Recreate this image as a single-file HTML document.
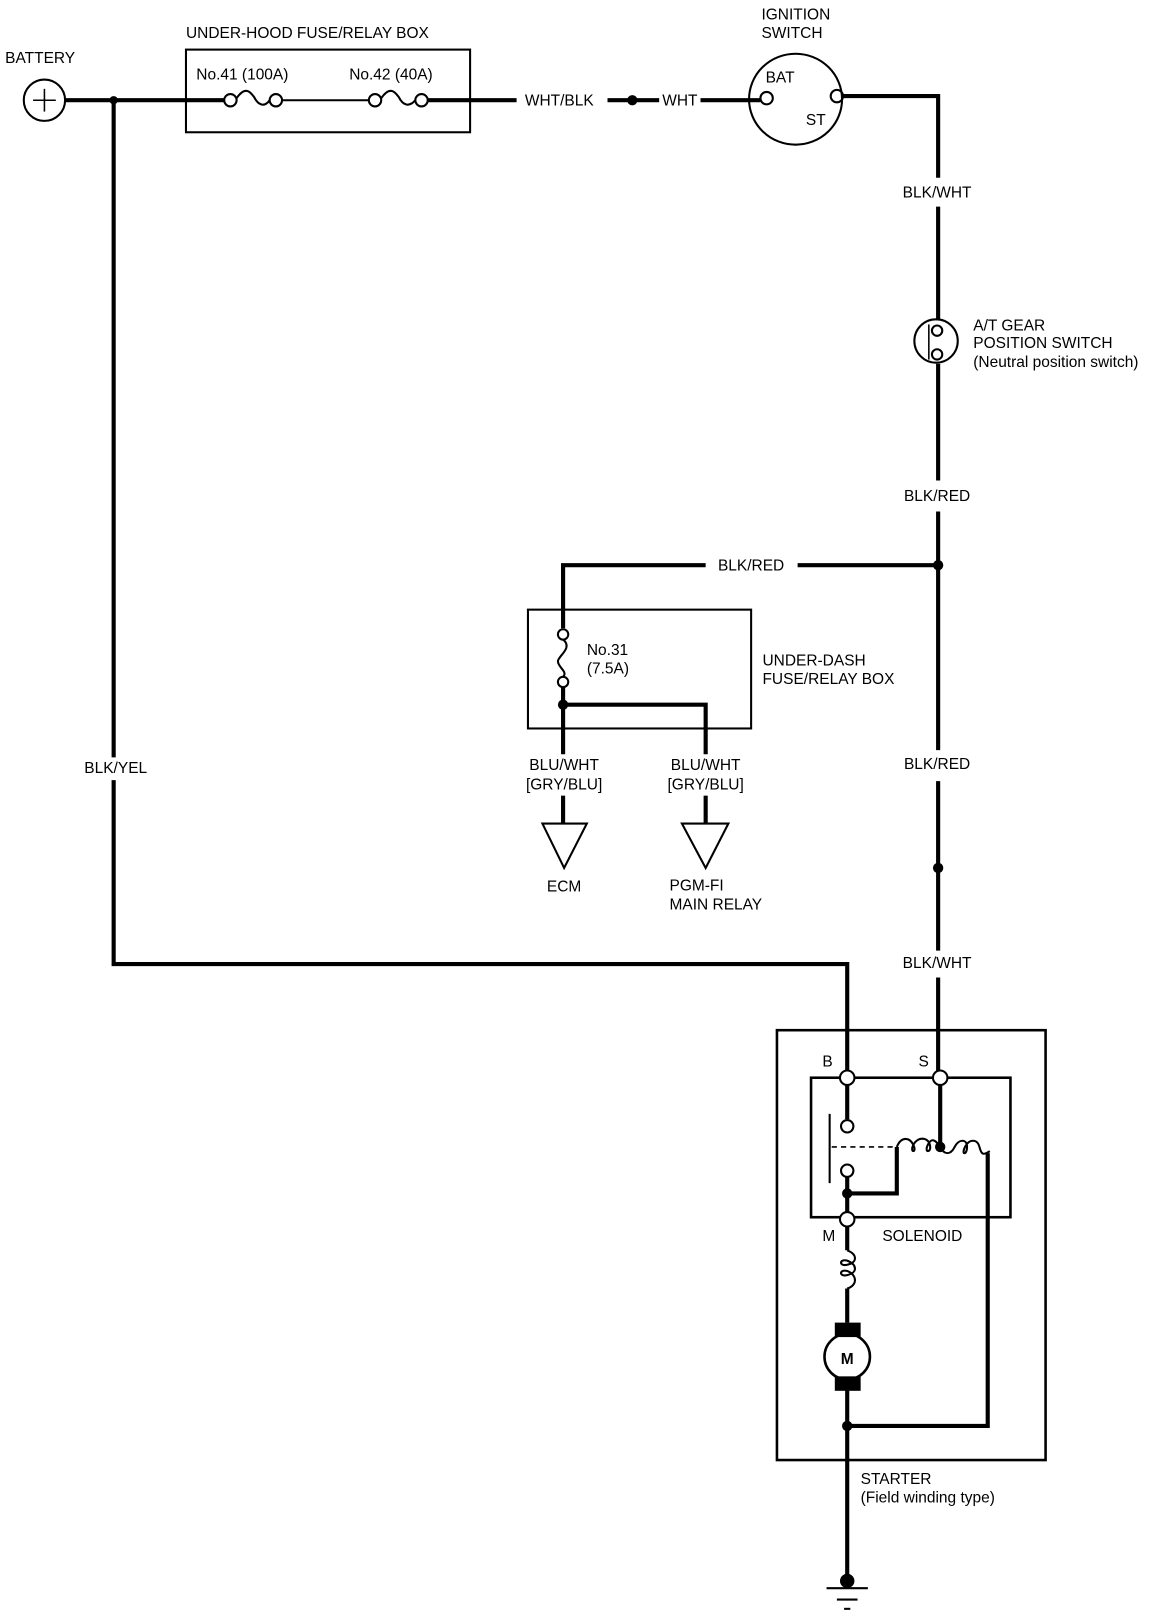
<!DOCTYPE html>
<html><head><meta charset="utf-8"><style>
html,body{margin:0;padding:0;background:#fff;}
svg{display:block;}
text{font-family:"Liberation Sans",sans-serif;font-size:15px;fill:#000;}
</style></head><body>
<svg width="1152" height="1614" viewBox="0 0 1115 1562" preserveAspectRatio="none" xmlns="http://www.w3.org/2000/svg">
<g fill="none" stroke="#000" stroke-width="4">
<!-- battery -->
<circle cx="43" cy="97" r="20" stroke-width="2"/>
<line x1="43" y1="86" x2="43" y2="108" stroke-width="1.5"/>
<line x1="32" y1="97" x2="54" y2="97" stroke-width="1.5"/>
<line x1="63" y1="97" x2="217" y2="97"/>
<rect x="180" y="48" width="275" height="80" stroke-width="2"/>
<!-- fuses -->
<circle cx="223" cy="97" r="6" stroke-width="2"/>
<path d="M229 95 C238 82 243 90 246 94 C250 102 256 104 261 97" stroke-width="2"/>
<circle cx="267" cy="97" r="6" stroke-width="2"/>
<line x1="273" y1="97" x2="357" y2="97" stroke-width="2"/>
<circle cx="363" cy="97" r="6" stroke-width="2"/>
<path d="M369 95 C378 82 383 90 386 94 C390 102 396 104 402 97" stroke-width="2"/>
<circle cx="408" cy="97" r="6" stroke-width="2"/>
<line x1="414" y1="97" x2="500" y2="97"/>
<line x1="588" y1="97" x2="638" y2="97"/>
<line x1="678" y1="97" x2="736" y2="97"/>
<!-- ignition -->
<ellipse cx="770" cy="96" rx="45" ry="44" stroke-width="2"/>
<circle cx="742" cy="95" r="6" stroke-width="2"/>
<circle cx="810" cy="93" r="6" stroke-width="2"/>
<path d="M816 93 H908 V172"/>
<line x1="908" y1="200" x2="908" y2="310"/>
<!-- AT switch -->
<circle cx="906" cy="330" r="21" stroke-width="2"/>
<circle cx="907" cy="320" r="5" stroke-width="2"/>
<circle cx="907" cy="343" r="5" stroke-width="2"/>
<line x1="899" y1="314" x2="899" y2="348" stroke-width="1.5"/>
<line x1="908" y1="352" x2="908" y2="465"/>
<line x1="908" y1="495" x2="908" y2="726"/>
<line x1="908" y1="756" x2="908" y2="920"/>
<line x1="908" y1="946" x2="908" y2="1036"/>
<!-- BLK/RED branch -->
<path d="M683 547 H545 V608"/>
<line x1="772" y1="547" x2="908" y2="547"/>
<rect x="511" y="590" width="216" height="115" stroke-width="2"/>
<circle cx="545" cy="614" r="5" stroke-width="2"/>
<path d="M545 619 C555 627 540 635 540 640 C540 646 550 650 545 655" stroke-width="2"/>
<circle cx="545" cy="660" r="5" stroke-width="2"/>
<line x1="545" y1="665" x2="545" y2="730"/>
<path d="M545 682 H683 V730"/>
<line x1="545" y1="770" x2="545" y2="797"/>
<line x1="683" y1="770" x2="683" y2="797"/>
<path d="M525 797 H568 L546 840 Z" stroke-width="2"/>
<path d="M660 797 H705 L683 840 Z" stroke-width="2"/>
<!-- BLK/YEL -->
<line x1="110" y1="97" x2="110" y2="733"/>
<path d="M110 755 V933 H820 V1036"/>
<!-- starter -->
<rect x="752" y="997" width="260" height="416" stroke-width="2.5"/>
<rect x="785" y="1043" width="193" height="135" stroke-width="2.5"/>
<circle cx="820" cy="1043" r="7" fill="#fff" stroke-width="2"/>
<circle cx="910" cy="1043" r="7" fill="#fff" stroke-width="2"/>
<line x1="820" y1="1050" x2="820" y2="1083"/>
<circle cx="820" cy="1090" r="6" stroke-width="2"/>
<circle cx="820" cy="1133" r="6" stroke-width="2"/>
<line x1="803" y1="1078" x2="803" y2="1145" stroke-width="2"/>
<line x1="805" y1="1110" x2="868" y2="1110" stroke-width="1.5" stroke-dasharray="5,4"/>
<path d="M868 1110 C872 1100 880 1100 884 1108 C888 1116 880 1116 884 1108 C888 1100 898 1100 900 1108 C902 1116 894 1116 898 1108 C902 1100 906 1104 910 1110" stroke-width="2"/>
<path d="M910 1110 C914 1118 920 1118 924 1110 C928 1102 936 1102 936 1110 C936 1118 930 1118 934 1110 C938 1102 946 1102 948 1110 C950 1118 952 1118 958 1114" stroke-width="2"/>
<line x1="910" y1="1050" x2="910" y2="1110"/>
<path d="M868 1110 V1155 H820"/>
<line x1="820" y1="1139" x2="820" y2="1173"/>
<circle cx="820" cy="1180" r="7" fill="#fff" stroke-width="2"/>
<path d="M956 1116 V1380 H820"/>
<line x1="820" y1="1187" x2="820" y2="1210"/>
<path d="M820 1210 C830 1214 830 1222 820 1224 C812 1226 812 1218 820 1220 C830 1224 830 1232 820 1234 C812 1236 812 1228 820 1230 C830 1234 830 1244 820 1247" stroke-width="2"/>
<line x1="820" y1="1247" x2="820" y2="1280"/>
<circle cx="820" cy="1313" r="22" stroke-width="2.5"/>
<line x1="820" y1="1345" x2="820" y2="1528"/>
<line x1="800" y1="1537" x2="840" y2="1537" stroke-width="2"/>
<line x1="810" y1="1548" x2="830" y2="1548" stroke-width="2"/>
<line x1="817" y1="1557" x2="823" y2="1557" stroke-width="2"/>
</g>
<g fill="#000">
<circle cx="110" cy="97" r="4"/>
<circle cx="612" cy="97" r="5"/>
<circle cx="908" cy="547" r="5"/>
<circle cx="908" cy="840" r="5"/>
<circle cx="545" cy="682" r="5"/>
<circle cx="910" cy="1110" r="5"/>
<circle cx="820" cy="1155" r="5"/>
<circle cx="820" cy="1380" r="5"/>
<circle cx="820" cy="1530" r="7"/>
<rect x="808" y="1280" width="25" height="14"/>
<rect x="808" y="1332" width="25" height="14"/>
</g>
<g>
<text x="5" y="61">BATTERY</text>
<text x="180" y="37">UNDER-HOOD FUSE/RELAY BOX</text>
<text x="190" y="77">No.41 (100A)</text>
<text x="338" y="77">No.42 (40A)</text>
<text x="508" y="102">WHT/BLK</text>
<text x="641" y="102">WHT</text>
<text x="737" y="19">IGNITION</text>
<text x="737" y="37">SWITCH</text>
<text x="741" y="80">BAT</text>
<text x="780" y="121">ST</text>
<text x="907" y="191" text-anchor="middle">BLK/WHT</text>
<text x="942" y="320">A/T GEAR</text>
<text x="942" y="337">POSITION SWITCH</text>
<text x="942" y="355" font-size="14">(Neutral position switch)</text>
<text x="907" y="485" text-anchor="middle">BLK/RED</text>
<text x="727" y="552" text-anchor="middle">BLK/RED</text>
<text x="907" y="744" text-anchor="middle">BLK/RED</text>
<text x="907" y="937" text-anchor="middle">BLK/WHT</text>
<text x="568" y="634">No.31</text>
<text x="568" y="652">(7.5A)</text>
<text x="738" y="644">UNDER-DASH</text>
<text x="738" y="662">FUSE/RELAY BOX</text>
<text x="546" y="745" text-anchor="middle">BLU/WHT</text>
<text x="546" y="764" text-anchor="middle">[GRY/BLU]</text>
<text x="683" y="745" text-anchor="middle">BLU/WHT</text>
<text x="683" y="764" text-anchor="middle">[GRY/BLU]</text>
<text x="546" y="863" text-anchor="middle">ECM</text>
<text x="648" y="862">PGM-FI</text>
<text x="648" y="880">MAIN RELAY</text>
<text x="112" y="748" text-anchor="middle">BLK/YEL</text>
<text x="796" y="1032">B</text>
<text x="889" y="1032">S</text>
<text x="796" y="1201">M</text>
<text x="854" y="1201">SOLENOID</text>
<text x="820" y="1320" text-anchor="middle" font-weight="bold" font-size="17">M</text>
<text x="833" y="1436">STARTER</text>
<text x="833" y="1454" font-size="14">(Field winding type)</text>
</g>
</svg>
</body></html>
